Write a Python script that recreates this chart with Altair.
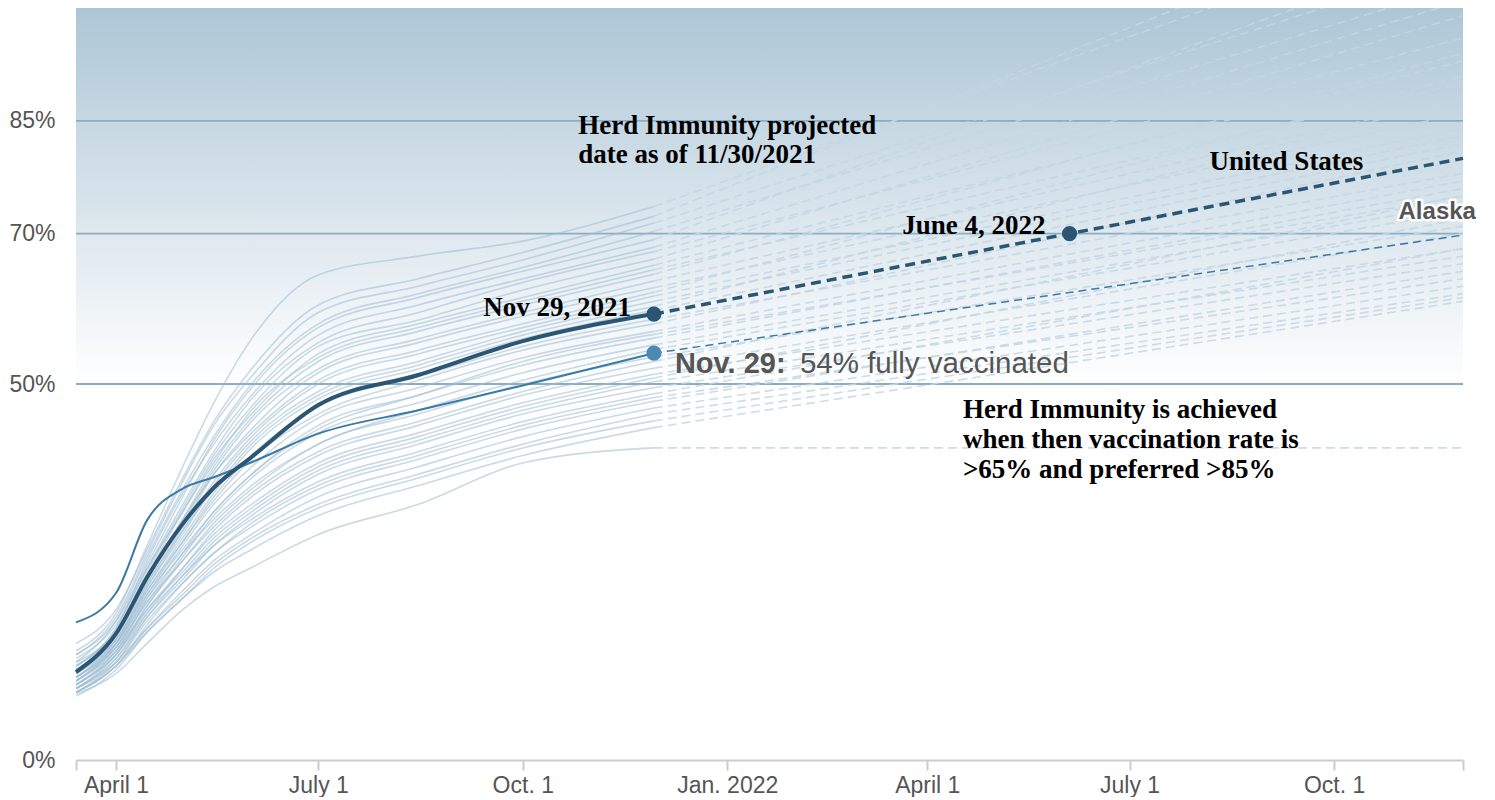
import altair as alt
import pandas as pd

# ---------------- data ----------------
anchor_dates = ["2021-03-14", "2021-04-01", "2021-04-15", "2021-05-01", "2021-05-15",
                "2021-06-01", "2021-07-01", "2021-08-15", "2021-10-01", "2021-11-29"]
proj_start_date = "2021-11-29"
proj_end_date = "2022-11-28"

# faint state lines: percent fully vaccinated at each anchor date
mar14 = [14.5, 15.5, 14.0, 13.0, 14.0, 12.5, 13.5, 12.0, 12.5, 11.5, 13.0, 12.0, 11.0, 12.5, 11.5, 10.5, 12.0, 11.0, 10.5, 12.0,
         10.0, 11.0, 10.5, 9.5, 11.5, 10.0, 11.0, 9.5, 10.0, 10.5, 9.0, 9.5, 10.0, 9.0, 9.5, 9.0, 9.5, 8.5, 9.0, 8.8]
apr01 = [19.5, 20.0, 19.0, 18.5, 18.5, 17.5, 18.0, 17.0, 17.5, 16.5, 17.0, 16.5, 16.0, 17.0, 16.0, 15.5, 16.5, 15.5, 15.0, 16.0,
         14.5, 15.5, 15.0, 14.0, 15.5, 14.5, 15.0, 13.5, 14.0, 14.5, 13.0, 13.5, 14.0, 12.5, 13.0, 12.5, 13.0, 12.0, 12.5, 11.5]
apr15 = [28.5, 28.0, 27.5, 27.0, 26.0, 26.5, 25.5, 25.0, 25.5, 24.5, 24.0, 24.0, 23.5, 24.5, 23.0, 23.0, 23.5, 22.5, 22.0, 22.5,
         21.5, 22.0, 21.0, 20.5, 21.5, 20.5, 21.0, 19.5, 20.0, 20.0, 19.0, 19.0, 19.5, 18.0, 18.5, 17.5, 17.5, 17.0, 17.0, 15.5]
may01 = [39.0, 37.5, 37.0, 36.0, 35.0, 35.5, 34.0, 33.5, 33.0, 33.0, 32.0, 31.5, 31.0, 32.0, 30.5, 30.0, 30.5, 29.5, 29.0, 29.0,
         28.5, 28.0, 27.5, 27.0, 27.5, 26.5, 26.5, 25.5, 25.5, 25.0, 24.5, 24.0, 24.5, 23.5, 23.5, 22.5, 22.0, 21.5, 21.5, 20.0]
may15 = [47.5, 45.0, 44.5, 43.0, 42.5, 42.0, 41.0, 40.5, 40.0, 39.5, 39.0, 38.5, 38.0, 38.0, 37.0, 36.5, 36.0, 35.5, 35.0, 34.5,
         34.0, 33.0, 33.0, 32.5, 32.0, 31.5, 31.0, 30.5, 30.0, 29.5, 29.0, 28.5, 28.5, 27.5, 27.5, 26.5, 26.0, 25.5, 25.0, 23.0]
jun01 = [56.0, 52.0, 51.0, 50.0, 49.5, 48.5, 48.0, 47.0, 46.0, 46.5, 45.5, 45.0, 44.0, 43.5, 43.0, 42.5, 42.0, 41.5, 40.5, 40.0,
         39.0, 38.0, 38.0, 37.5, 36.5, 36.0, 35.5, 35.0, 34.0, 33.5, 33.0, 32.5, 32.0, 31.5, 31.0, 30.0, 29.5, 29.0, 28.0, 25.6]
jul01 = [64.5, 60.5, 59.5, 58.0, 57.5, 56.5, 55.5, 55.0, 54.0, 53.5, 53.0, 52.0, 51.5, 50.5, 50.0, 49.0, 48.5, 48.0, 47.0, 46.0,
         45.5, 44.0, 44.5, 43.5, 42.0, 42.0, 41.0, 40.5, 39.5, 39.0, 38.5, 38.0, 37.0, 36.5, 36.0, 35.0, 34.0, 33.5, 32.5, 30.0]
aug15 = [67.0, 64.0, 63.0, 62.0, 61.5, 60.5, 59.5, 58.5, 58.0, 57.5, 57.0, 56.0, 55.5, 54.5, 54.0, 53.0, 52.5, 52.0, 51.0, 50.5,
         49.5, 48.5, 48.5, 47.5, 46.5, 46.0, 45.0, 44.5, 43.5, 43.0, 42.5, 42.0, 41.0, 40.5, 40.0, 39.0, 38.0, 37.5, 36.5, 34.0]
oct01 = [69.0, 67.5, 66.5, 65.5, 65.0, 64.0, 63.5, 62.5, 61.5, 61.0, 60.5, 59.5, 59.0, 58.0, 57.5, 57.0, 56.5, 56.0, 55.0, 54.5,
         53.5, 53.0, 52.5, 51.5, 50.5, 50.0, 49.0, 48.5, 47.5, 47.0, 46.5, 46.0, 45.0, 44.5, 44.0, 43.0, 42.0, 41.5, 40.5, 39.5]
nov29 = [73.6, 72.3, 71.4, 70.3, 69.2, 68.2, 67.6, 66.6, 65.8, 65.2, 64.6, 63.7, 62.8, 62.2, 61.7, 61.0, 60.3, 59.8, 58.6, 58.0,
         57.0, 56.6, 56.1, 55.2, 54.6, 53.6, 53.0, 52.1, 51.3, 50.8, 50.3, 49.5, 48.7, 48.2, 47.7, 46.8, 46.0, 45.1, 44.2, 41.5]
# projected value one year later (dashed)
proj_end = [112, 115, 106, 103, 108, 101, 96, 99, 93, 90, 94, 88, 86, 91, 84, 83, 88, 82, 78, 81,
            77, 75, 76, 74, 73, 71, 75, 70, 68, 72, 67, 66, 68, 64, 65, 63, 62, 61.5, 61, 41.5]

# United States and Alaska
us_vals = [11.7, 16.8, 24.3, 31.4, 36.2, 40.3, 47.2, 51.2, 55.7, 59.3]
us_proj_dates = ["2021-11-29", "2022-06-04", "2022-11-28"]
us_proj_vals = [59.3, 70.0, 80.0]
ak_vals = [18.3, 22.2, 31.9, 36.1, 37.6, 39.6, 43.4, 46.5, 49.8, 54.1]
ak_proj_vals = [54.1, 69.8]

# ---------------- tables ----------------
cols = [mar14, apr01, apr15, may01, may15, jun01, jul01, aug15, oct01, nov29]
rows = []
for i in range(len(nov29)):
    for d, c in zip(anchor_dates, cols):
        rows.append({"sid": i, "date": d, "pct": c[i]})
states = pd.DataFrame(rows)
states["date"] = pd.to_datetime(states["date"])

prows = []
for i in range(len(nov29)):
    prows.append({"sid": i, "date": proj_start_date, "pct": nov29[i]})
    prows.append({"sid": i, "date": proj_end_date, "pct": proj_end[i]})
proj = pd.DataFrame(prows)
proj["date"] = pd.to_datetime(proj["date"])

us = pd.DataFrame({"date": pd.to_datetime(anchor_dates), "pct": us_vals})
us_proj = pd.DataFrame({"date": pd.to_datetime(us_proj_dates), "pct": us_proj_vals})
ak = pd.DataFrame({"date": pd.to_datetime(anchor_dates), "pct": ak_vals})
ak_proj = pd.DataFrame({"date": pd.to_datetime([proj_start_date, proj_end_date]), "pct": ak_proj_vals})

us_pts = us_proj.iloc[:2]
ak_pt = ak_proj.iloc[:1]

grid_df = pd.DataFrame({"pct": [50, 70, 85]})
bg_df = pd.DataFrame({"date": pd.to_datetime(["2021-03-14"]), "x1": pd.to_datetime(["2022-11-28"]),
                      "pct": [50], "y1": [100]})

serif_notes = pd.DataFrame({
    "date": pd.to_datetime(["2021-10-26", "2021-10-26", "2022-08-06",
                            "2022-04-17", "2022-04-17", "2022-04-17"]),
    "pct": [83.3, 79.4, 78.4, 45.5, 41.5, 37.5],
    "text": ["Herd Immunity projected", "date as of 11/30/2021", "United States",
             "Herd Immunity is achieved", "when then vaccination rate is", ">65% and preferred >85%"],
})
nov_note = pd.DataFrame({"date": pd.to_datetime(["2021-11-29"]), "pct": [59.3], "text": ["Nov 29, 2021"]})
june_note = pd.DataFrame({"date": pd.to_datetime(["2022-06-04"]), "pct": [70.0], "text": ["June 4, 2022"]})
alaska_note = pd.DataFrame({"date": pd.to_datetime(["2022-10-30"]), "pct": [72.0], "text": ["Alaska"]})
ak_note = pd.DataFrame({"date": pd.to_datetime(["2021-11-29"]), "pct": [51.4]})

# ---------------- scales / axes ----------------
def DT(y, m, d):
    return alt.DateTime(year=y, month=m, date=d)

X_SCALE = alt.Scale(domain=[DT(2021, 3, 14), DT(2022, 11, 28)], nice=False)
Y_SCALE = alt.Scale(domain=[0, 100], nice=False)

x_axis = alt.Axis(
    values=[DT(2021, 3, 14), DT(2021, 4, 1), DT(2021, 7, 1), DT(2021, 10, 1), DT(2022, 1, 1),
            DT(2022, 4, 1), DT(2022, 7, 1), DT(2022, 10, 1), DT(2022, 11, 28)],
    labelExpr="month(datum.value)==3 ? 'April 1' : month(datum.value)==6 ? 'July 1' : "
              "month(datum.value)==9 ? 'Oct. 1' : month(datum.value)==0 ? 'Jan. ' + year(datum.value) : ''",
    title=None, grid=False, domainColor="#cccccc", domainWidth=2, tickColor="#cccccc",
    tickWidth=2, tickSize=10, labelFontSize=23, labelColor="#555555", labelFont="Liberation Sans",
    labelPadding=4, labelOverlap=False, labelFlush=False,
)
y_axis = alt.Axis(
    values=[0, 50, 70, 85], labelExpr="datum.value + '%'", title=None, domain=False, ticks=False,
    grid=False, labelFontSize=23, labelColor="#555555", labelFont="Liberation Sans", labelPadding=21,
)

X = alt.X("date:T", scale=X_SCALE, axis=x_axis, title=None)
Y = alt.Y("pct:Q", scale=Y_SCALE, axis=y_axis, title=None)

# ---------------- layers ----------------
bg = alt.Chart(bg_df).mark_rect(
    fill=alt.Gradient(gradient="linear",
                      stops=[alt.GradientStop(color="#adc6d6", offset=0),
                             alt.GradientStop(color="#ffffff", offset=1)],
                      x1=0, x2=0, y1=0, y2=1)
).encode(x=X, x2="x1:T", y=Y, y2="y1:Q")

grid = alt.Chart(grid_df).mark_rule(color="#8badc4", strokeWidth=1.8).encode(y=Y)

faint = alt.Chart(states).mark_line(
    color="#9dbcd1", opacity=0.55, strokeWidth=1.6, interpolate="monotone", clip=True
).encode(x=X, y=Y, detail="sid:N")

faint_proj = alt.Chart(proj).mark_line(
    color="#c3d6e4", opacity=0.85, strokeWidth=1.6, strokeDash=[9, 5], clip=True
).encode(x=X, y=Y, detail="sid:N")

ak_line = alt.Chart(ak).mark_line(color="#3a7aa5", strokeWidth=2, interpolate="monotone").encode(x=X, y=Y)
ak_dash = alt.Chart(ak_proj).mark_line(color="#3a7aa5", strokeWidth=1.5, strokeDash=[8, 5]).encode(x=X, y=Y)
us_line = alt.Chart(us).mark_line(color="#2a5674", strokeWidth=4, interpolate="monotone").encode(x=X, y=Y)
us_dash = alt.Chart(us_proj).mark_line(color="#2a5674", strokeWidth=3.5, strokeDash=[10, 6]).encode(x=X, y=Y)

us_dots = alt.Chart(us_pts).mark_circle(color="#2a5674", size=230, opacity=1).encode(x=X, y=Y)
ak_dot = alt.Chart(ak_pt).mark_circle(color="#4b89b3", size=230, opacity=1).encode(x=X, y=Y)

serif = dict(font="Liberation Serif", fontWeight="bold", fontSize=27, color="black", baseline="alphabetic")
notes = alt.Chart(serif_notes).mark_text(align="left", **serif).encode(x=X, y=Y, text="text:N")
nov_lbl = alt.Chart(nov_note).mark_text(align="right", dx=-23, dy=2, **serif).encode(x=X, y=Y, text="text:N")
june_lbl = alt.Chart(june_note).mark_text(align="right", dx=-24, dy=0, **serif).encode(x=X, y=Y, text="text:N")

sans = dict(font="Liberation Sans", baseline="alphabetic", align="left")
alaska_halo = alt.Chart(alaska_note).mark_text(
    fontWeight="bold", fontSize=24, color="white", stroke="white", strokeWidth=5, strokeJoin="round", **sans
).encode(x=X, y=Y, text="text:N")
alaska_lbl = alt.Chart(alaska_note).mark_text(
    fontWeight="bold", fontSize=24, color="#555555", **sans
).encode(x=X, y=Y, text="text:N")
ak_bold = alt.Chart(ak_note).mark_text(
    fontWeight="bold", fontSize=29, color="#555555", dx=21, text="Nov. 29:", **sans
).encode(x=X, y=Y)
ak_rest = alt.Chart(ak_note).mark_text(
    fontWeight="normal", fontSize=29.5, color="#555555", dx=146, text="54% fully vaccinated", **sans
).encode(x=X, y=Y)

chart = alt.layer(
    bg, grid, faint, faint_proj, ak_line, ak_dash, us_line, us_dash, us_dots, ak_dot,
    notes, nov_lbl, june_lbl, alaska_halo, alaska_lbl, ak_bold, ak_rest
).properties(
    width=1387, height=752, padding={"top": 0, "left": 0, "right": 0, "bottom": 0}
).configure_view(stroke=None)

chart.save("out.html", embed_options={"renderer": "svg", "actions": False})
